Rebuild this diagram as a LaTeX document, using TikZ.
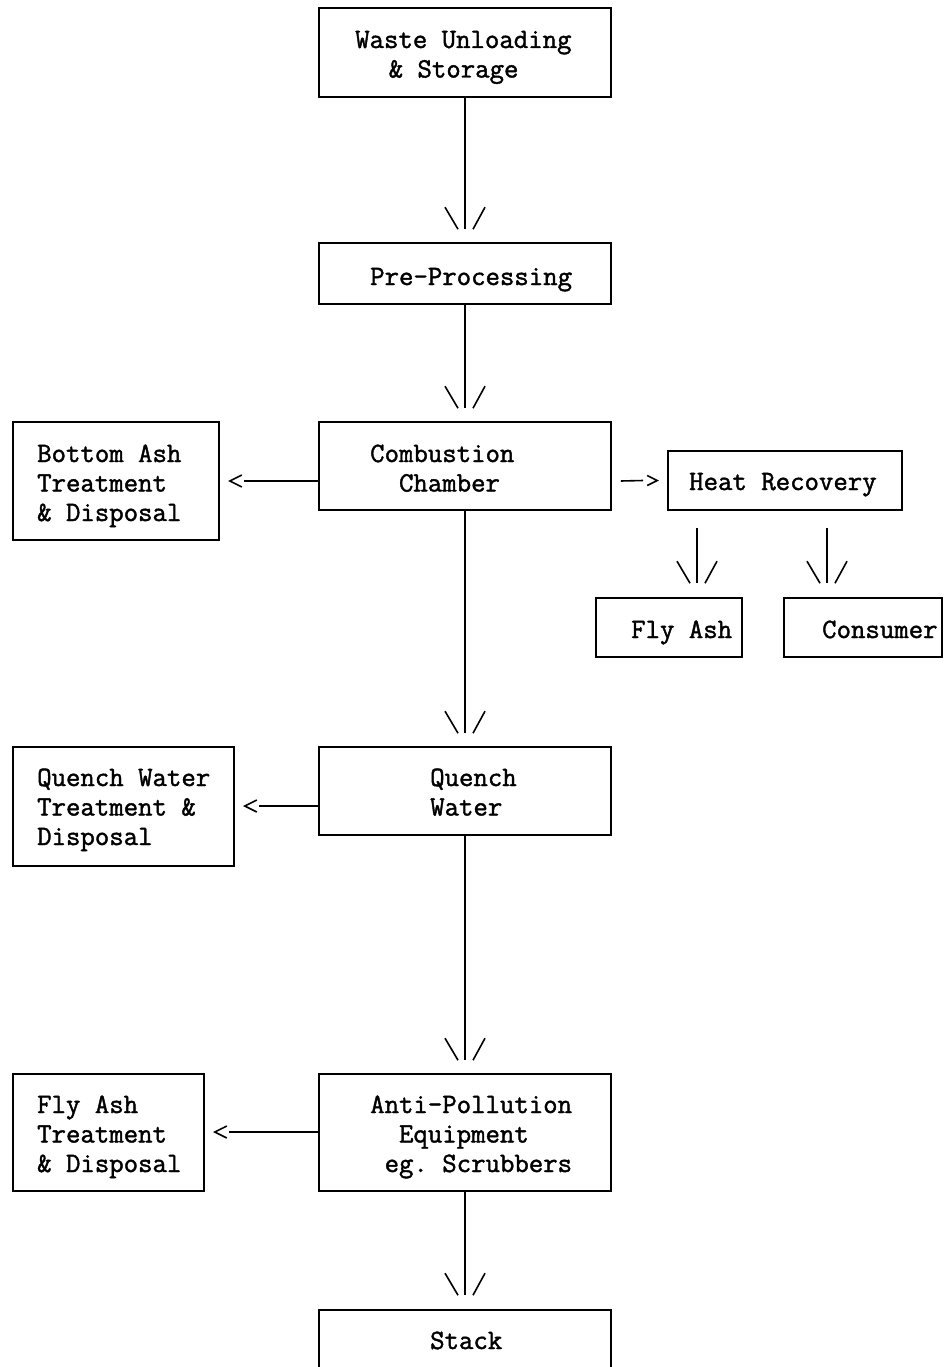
\documentclass[tikz,border=0pt]{standalone}
\usepackage{fontspec}
\newfontfamily\twfont{Latin Modern Mono}[FakeBold=1.5]
\usetikzlibrary{calc}
\begin{document}
\begin{tikzpicture}[x=1pt,y=-1pt,
  box/.style={draw,line width=1.6pt,inner sep=0pt},
  txt/.style={font=\fontsize{28}{29.5}\selectfont\twfont\frenchspacing,align=left,inner sep=0pt,anchor=base west},
  conn/.style={line width=1.6pt},
  vhead/.pic={\draw[conn] (-20,-22) -- (-7,0) (20,-22) -- (8,0);},
  lhead/.pic={\draw[conn] (12,-6) -- (0,0) -- (12,6);},
  rhead/.pic={\draw[conn] (-10,-5) -- (0,0) -- (-10,5);}]
\useasboundingbox (0,0) rectangle (945,1367);
% boxes
\node[box,minimum width=292,minimum height=89] (waste) at (465,52.5) {};
\node[box,minimum width=292,minimum height=61] (pre) at (465,273.5) {};
\node[box,minimum width=292,minimum height=88] (comb) at (465,466) {};
\node[box,minimum width=206,minimum height=118] (bottom) at (116,481) {};
\node[box,minimum width=234,minimum height=59] (heat) at (785,480.5) {};
\node[box,minimum width=146,minimum height=59] (flyash) at (669,627.5) {};
\node[box,minimum width=158,minimum height=59] (consumer) at (863,627.5) {};
\node[box,minimum width=292,minimum height=88] (quench) at (465,791) {};
\node[box,minimum width=221,minimum height=119] (qwt) at (123.5,806.5) {};
\node[box,minimum width=292,minimum height=117] (anti) at (465,1132.5) {};
\node[box,minimum width=191,minimum height=117] (fat) at (108.5,1132.5) {};
\node[box,minimum width=292,minimum height=72] (stack) at (465,1346) {};
% texts (anchor = baseline of last line)
\node[txt] (t1) at (355,77.5) {Waste Unloading\\~~\,\& Storage};
\node[txt] (t2) at (370,285) {Pre-Processing};
\node[txt] (t3) at (370,491.5) {Combustion\\~~Chamber};
\node[txt] (t4) at (37,521) {Bottom Ash\\Treatment\\\& Disposal};
\node[txt] (t5) at (689,490) {Heat Recovery};
\node[txt] (t6) at (631,638) {Fly Ash};
\node[txt] (t7) at (822,638) {Consumer};
\node[txt] (t8) at (430,815.5) {Quench\\Water};
\node[txt] (t9) at (37,845) {Quench Water\\Treatment \&\\Disposal};
\node[txt] (t10) at (370,1172) {Anti-Pollution\\~~Equipment\\~eg. Scrubbers};
\node[txt] (t11) at (37,1172) {Fly Ash\\Treatment\\\& Disposal};
\node[txt] (t12) at (430,1349) {Stack};
% vertical connectors
\draw[conn] (waste.south) -- ($(pre.north)+(0,-13)$) coordinate (a1);
\pic at (a1) {vhead};
\draw[conn] (pre.south) -- ($(comb.north)+(0,-13)$) coordinate (a2);
\pic at (a2) {vhead};
\draw[conn] (comb.south) -- ($(quench.north)+(0,-13)$) coordinate (a3);
\pic at (a3) {vhead};
\draw[conn] (quench.south) -- ($(anti.north)+(0,-13)$) coordinate (a4);
\pic at (a4) {vhead};
\draw[conn] (anti.south) -- ($(stack.north)+(0,-14)$) coordinate (a5);
\pic at (a5) {vhead};
\draw[conn] ($(heat.south)+(-88,17)$) -- ($(flyash.north)+(28,-14)$) coordinate (a6);
\pic at (a6) {vhead};
\draw[conn] ($(heat.south)+(42,17)$) -- ($(consumer.north)+(-36,-14)$) coordinate (a7);
\pic at (a7) {vhead};
% horizontal connectors
\draw[conn] ($(comb.west)+(0,15)$) -- ($(bottom.east)+(24,0)$);
\pic at ($(bottom.east)+(10,0)$) {lhead};
\draw[conn] ($(comb.east)+(9,15)$) -- ($(heat.west)+(-24,0)$);
\pic at ($(heat.west)+(-10,0)$) {rhead};
\draw[conn] ($(quench.west)+(0,15)$) -- ($(qwt.east)+(24,-0.5)$);
\pic at ($(qwt.east)+(10,-0.5)$) {lhead};
\draw[conn] ($(anti.west)+(0,-0.5)$) -- ($(fat.east)+(24,-0.5)$);
\pic at ($(fat.east)+(10,-0.5)$) {lhead};
\end{tikzpicture}
\end{document}
